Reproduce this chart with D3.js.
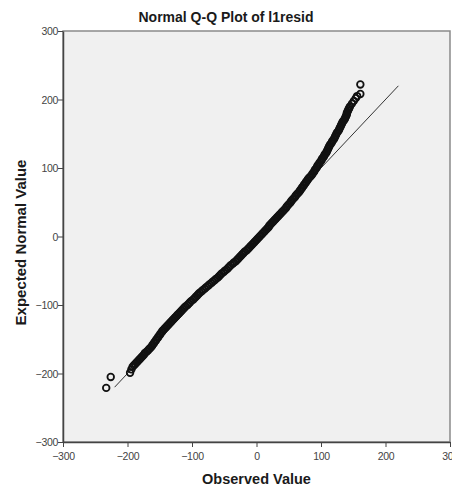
<!DOCTYPE html>
<html>
<head>
<meta charset="utf-8">
<script src="https://cdnjs.cloudflare.com/ajax/libs/d3/7.8.5/d3.min.js"></script>
<style>
	html, body { margin: 0; padding: 0; background: white; }
	#outer { width: 452px; height: 486px; }
</style>
</head>
<body>
<div id="outer"></div>
<script>
////////// DATA //////////
const chartTitle = 'Normal Q-Q Plot of l1resid';
const xAxisTitle = 'Observed Value';
const yAxisTitle = 'Expected Normal Value';
const xTicks = [-300, -200, -100, 0, 100, 200, 300];
const yTicks = [-300, -200, -100, 0, 100, 200, 300];
const refLine = [-220, 220];

// [observed, expected normal value], sorted
const lowTail = [[-233, -221], [-226, -205], [-196, -199], [-194, -194]];
const band = [
	[-192, -190], [-190, -188], [-188, -186], [-186, -184], [-184, -182], [-182, -180], [-180, -178], [-178, -176],
	[-176, -174], [-174, -172], [-173, -170], [-170, -168], [-168, -166], [-166, -164], [-164, -162], [-162, -160],
	[-161, -158], [-159, -156], [-158, -154], [-156, -152], [-155, -150], [-153, -148], [-152, -146], [-150, -144],
	[-149, -142], [-147, -140], [-146, -138], [-144, -136], [-142, -134], [-140, -132], [-138, -130], [-136, -128],
	[-134, -126], [-132, -124], [-130, -122], [-128, -120], [-126, -118], [-124, -116], [-122, -114], [-120, -112],
	[-118, -110], [-116, -108], [-114, -106], [-112, -104], [-110, -102], [-107, -100], [-105, -98], [-103, -96],
	[-101, -94], [-98, -92], [-96, -90], [-94, -88], [-92, -86], [-90, -84], [-88, -82], [-85, -80],
	[-83, -78], [-80, -76], [-78, -74], [-75, -72], [-73, -70], [-70, -68], [-68, -66], [-65, -64],
	[-63, -62], [-60, -60], [-58, -58], [-56, -56], [-54, -54], [-51, -52], [-49, -50], [-46, -48],
	[-44, -46], [-42, -44], [-40, -42], [-37, -40], [-35, -38], [-32, -36], [-30, -34], [-28, -32],
	[-26, -30], [-24, -28], [-22, -26], [-20, -24], [-18, -22], [-15, -20], [-13, -18], [-11, -16],
	[-9, -14], [-7, -12], [-5, -10], [-3, -8], [-1, -6], [1, -4], [3, -2], [5, 0],
	[7, 2], [9, 4], [11, 6], [13, 8], [15, 10], [17, 12], [19, 14], [20, 16],
	[22, 18], [24, 20], [26, 22], [28, 24], [30, 26], [32, 28], [34, 30], [36, 32],
	[38, 34], [40, 36], [42, 38], [44, 40], [46, 42], [47, 44], [49, 46], [51, 48],
	[53, 50], [54, 52], [56, 54], [58, 56], [60, 58], [61, 60], [63, 62], [65, 64],
	[67, 66], [68, 68], [70, 70], [71, 72], [73, 74], [74, 76], [76, 78], [77, 80],
	[79, 82], [80, 84], [82, 86], [84, 88], [86, 90], [87, 92], [89, 94], [90, 96],
	[91, 98], [93, 100], [94, 102], [95, 104], [97, 106], [98, 108], [100, 110], [101, 112],
	[102, 114], [104, 116], [105, 118], [106, 120], [108, 122], [109, 124], [110, 126], [111, 128],
	[112, 130], [113, 132], [114, 134], [116, 136], [117, 138], [118, 140], [120, 142], [121, 144],
	[122, 146], [123, 148], [124, 150], [125, 152], [127, 154], [128, 156], [129, 158], [130, 160],
	[131, 162], [132, 164], [133, 166], [134, 168], [136, 170], [137, 172], [138, 174], [139, 176],
	[140, 178], [140, 180], [141, 182], [142, 184], [143, 186], [144, 188], [145, 190]
];
const highTail = [[148, 194], [151, 198], [154, 202], [156, 205], [161, 208], [161, 222]];

////////// SIZING //////////
const width = 452;
const height = 486;
const margin = {top: 31, left: 63, right: 2, bottom: 44};
const plotW = width - margin.left - margin.right;
const plotH = height - margin.top - margin.bottom;

const x = d3.scaleLinear().domain([-300, 300]).range([0, plotW]);
const y = d3.scaleLinear().domain([-300, 300]).range([plotH, 0]);

////////// DRAW //////////
const svg = d3.select('#outer').append('svg')
	.attr('width', width)
	.attr('height', height)
	.style('font-family', 'Liberation Sans, Arial, sans-serif');

svg.append('text')
	.attr('x', width / 2)
	.attr('y', 22)
	.attr('text-anchor', 'middle')
	.attr('font-size', '14px')
	.attr('font-weight', 'bold')
	.attr('fill', '#1a1a1a')
	.text(chartTitle);

const g = svg.append('g')
	.attr('transform', `translate(${margin.left},${margin.top})`);

// plot background + frame
g.append('rect')
	.attr('width', plotW)
	.attr('height', plotH)
	.attr('fill', '#f0f0f0')
	.attr('stroke', '#8a8a8a')
	.attr('stroke-width', 1.5);

// axes
const xAxis = g.append('g')
	.attr('transform', `translate(0,${plotH})`)
	.call(d3.axisBottom(x).tickValues(xTicks).tickSize(5).tickSizeOuter(0));
const yAxis = g.append('g')
	.call(d3.axisLeft(y).tickValues(yTicks).tickSize(5).tickSizeOuter(0));

[xAxis, yAxis].forEach(ax => {
	ax.select('.domain').attr('stroke', '#444').attr('stroke-width', 1.5);
	ax.selectAll('.tick line').attr('stroke', '#444');
	ax.selectAll('.tick text')
		.attr('fill', '#444')
		.attr('font-size', '10.5px')
		.style('letter-spacing', '-0.3px');
});
xAxis.selectAll('.tick text').attr('dy', '0.95em');
yAxis.selectAll('.tick text').attr('dy', '0.35em').attr('x', -5);

// reference line
g.append('line')
	.attr('x1', x(refLine[0]))
	.attr('y1', y(refLine[0]))
	.attr('x2', x(refLine[1]))
	.attr('y2', y(refLine[1]))
	.attr('stroke', '#333')
	.attr('stroke-width', 1);

// points
const points = [...lowTail, ...band, ...highTail].map(d => ({obs: d[0], exp: d[1]}));
g.append('g').selectAll('circle')
	.data(points)
	.join('circle')
	.attr('cx', d => x(d.obs))
	.attr('cy', d => y(d.exp))
	.attr('r', 3.3)
	.attr('fill', 'none')
	.attr('stroke', '#111')
	.attr('stroke-width', 1.8);

// axis titles
svg.append('text')
	.attr('x', margin.left + plotW / 2)
	.attr('y', 484)
	.attr('text-anchor', 'middle')
	.attr('font-size', '14.5px')
	.attr('font-weight', 'bold')
	.attr('fill', '#1a1a1a')
	.text(xAxisTitle);

svg.append('text')
	.attr('transform', `translate(26,${margin.top + plotH / 2 + 6}) rotate(-90)`)
	.attr('text-anchor', 'middle')
	.attr('font-size', '15px')
	.attr('font-weight', 'bold')
	.attr('fill', '#1a1a1a')
	.text(yAxisTitle);
</script>
</body>
</html>
